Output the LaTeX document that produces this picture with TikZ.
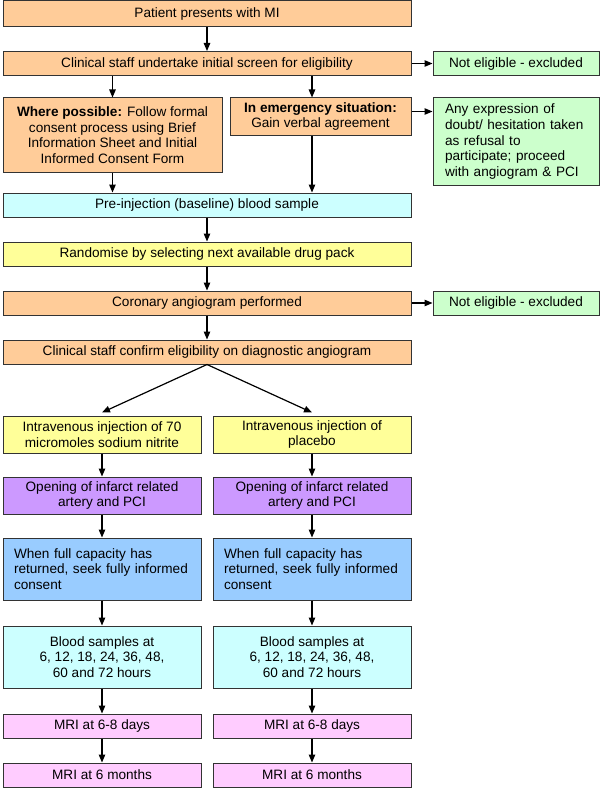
\documentclass[tikz,border=0pt]{standalone}
\usepackage{fontspec}
\setmainfont{Liberation Sans}
\usetikzlibrary{positioning, arrows.meta}
\definecolor{peach}{HTML}{FFCC99}
\definecolor{mint}{HTML}{CCFFCC}
\definecolor{aqua}{HTML}{CCFFFF}
\definecolor{lemon}{HTML}{FFFF99}
\definecolor{lilac}{HTML}{CC99FF}
\definecolor{sky}{HTML}{99CCFF}
\definecolor{rose}{HTML}{FFCCFF}

\begin{document}
\begin{tikzpicture}[x=1pt, y=-1pt,
  box/.style={draw=black!80, line width=1pt, inner sep=0pt, align=center,
    font=\fontsize{13.6}{15.7}\selectfont},
  wide/.style={box, minimum width=408pt, minimum height=24pt},
  side/.style={box, fill=mint, minimum width=166pt, minimum height=24pt},
  half/.style={box, minimum width=198pt},
  flow/.style={-{Triangle[length=8pt,width=6.5pt]}, line width=1.2pt}]

\useasboundingbox (0,0) rectangle (600,789);

% screening and consent
\node[wide, fill=peach, minimum height=26pt] (patient) at (207,14) {Patient presents with MI};
\node[wide, fill=peach] (screen) at (207,63.5) {Clinical staff undertake initial screen for eligibility};
\node[side] (excl1) at (516,63.5) {Not eligible - excluded};
\node[box, fill=peach, minimum width=219pt, minimum height=74pt] (formal) at (112.5,135)
  {\textbf{Where possible:} Follow formal\\consent process using Brief\\Information Sheet and Initial\\Informed Consent Form};
\node[box, fill=peach, minimum width=181pt, minimum height=37pt] (verbal) at (320.5,116.5)
  {\textbf{In emergency situation:}\\Gain verbal agreement};
\node[side, minimum height=87pt, text width=142pt, align=left] (doubt) at (516,141.5)
  {Any expression of\\doubt/ hesitation taken\\as refusal to\\participate; proceed\\with angiogram \& PCI};

% randomisation
\node[wide, fill=aqua] (baseline) at (207,205) {Pre-injection (baseline) blood sample};
\node[wide, fill=lemon] (random) at (207,254) {Randomise by selecting next available drug pack};
\node[wide, fill=peach] (angio) at (207,303) {Coronary angiogram performed};
\node[side] (excl2) at (516,303) {Not eligible - excluded};
\node[wide, fill=peach] (confirm) at (207,352) {Clinical staff confirm eligibility on diagnostic angiogram};

% the two arms
\node[half, fill=lemon, minimum height=37pt] (injl) at (102,434.5)
  {Intravenous injection of 70\\micromoles sodium nitrite};
\node[half, fill=lemon, minimum height=37pt] (injr) at (312,434.5)
  {Intravenous injection of\\placebo};
\foreach \c/\x in {l/102, r/312} {
  \node[half, fill=lilac, minimum height=37pt] (open\c) at (\x,495.5)
    {Opening of infarct related\\artery and PCI};
  \node[half, fill=sky, minimum height=62pt, text width=176pt, align=left] (cons\c) at (\x,569)
    {When full capacity has\\returned, seek fully informed\\consent};
  \node[half, fill=aqua, minimum height=62pt] (blood\c) at (\x,657)
    {Blood samples at\\6, 12, 18, 24, 36, 48,\\60 and 72 hours};
  \node[half, fill=rose, minimum height=24pt] (mria\c) at (\x,726) {MRI at 6-8 days};
  \node[half, fill=rose, minimum height=24pt] (mrib\c) at (\x,775) {MRI at 6 months};
}

% connectors
\coordinate (vout) at ([yshift=5pt]verbal.east);
\draw[flow] (patient) -- (screen);
\draw[flow] (screen) -- (excl1);
\draw[flow] (formal.north |- screen.south) -- (formal);
\draw[flow] (injr.north |- screen.south) -- (injr.north |- verbal.north);
\draw[flow] (vout) -- (doubt.west |- vout);
\draw[flow] (formal) -- (formal.south |- baseline.north);
\draw[flow] (injr.north |- verbal.south) -- (injr.north |- baseline.north);
\draw[flow] (baseline) -- (random);
\draw[flow] (random) -- (angio);
\draw[flow] (angio) -- (excl2);
\draw[flow] (angio) -- (confirm);
\draw[flow] (confirm.south) -- ([yshift=3pt]injl.north);
\draw[flow] (confirm.south) -- ([yshift=3pt]injr.north);
\foreach \c in {l, r} {
  \draw[flow] (inj\c) -- (open\c);
  \draw[flow] (open\c) -- (cons\c);
  \draw[flow] (cons\c) -- (blood\c);
  \draw[flow] (blood\c) -- (mria\c);
  \draw[flow] (mria\c) -- (mrib\c);
}
\end{tikzpicture}
\end{document}
